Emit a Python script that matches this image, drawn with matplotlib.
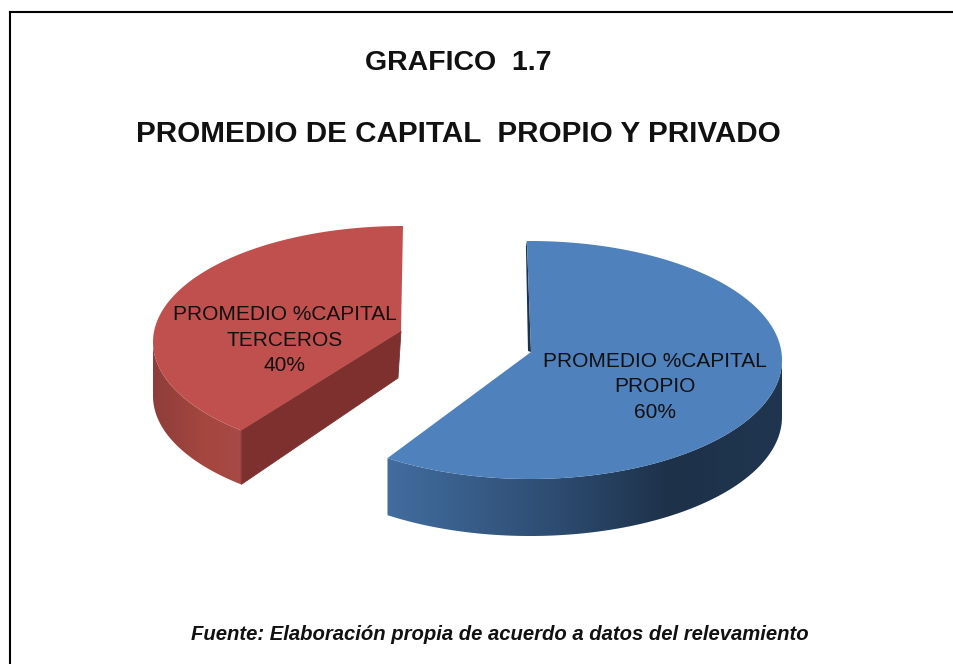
import numpy as np
import matplotlib
matplotlib.use("Agg")
import matplotlib.pyplot as plt
from matplotlib.colors import LinearSegmentedColormap
from matplotlib.patches import Polygon

plt.rcParams["font.family"] = ["Liberation Sans", "DejaVu Sans"]

# data
categories = ["PROMEDIO %CAPITAL\nPROPIO", "PROMEDIO %CAPITAL\nTERCEROS"]
values = [60, 40]
title_1 = "GRAFICO  1.7"
title_2 = "PROMEDIO DE CAPITAL  PROPIO Y PRIVADO"
source = "Fuente: Elaboración propia de acuerdo a datos del relevamiento"

W, H = 954, 664

# one style entry per slice, canvas is in pixels, y goes down
SLICES = [
    dict(center=(530, 360), apex=(531, 352), rx=252, ry=119, depth=57,
         start=90.7, direction=-1, squeeze=0.996, top="#4f81bd",
         side=[(0, "#426d9f"), (0.45, "#2c4a6e"), (0.72, "#1d3149"), (1, "#203650")],
         label_xy=(655, 387)),
    dict(center=(403, 342), apex=(401, 331), rx=250, ry=116, depth=54,
         start=90, direction=1, squeeze=0.97, top="#c0504d",
         side=[(0, "#8f3d3a"), (0.6, "#a5473f"), (1, "#a84a45")],
         label_xy=(285, 340)),
]


def rim(center, rx, ry, a0, a1, n=160):
    t = np.radians(np.linspace(a0, a1, n))
    return center[0] + rx * np.cos(t), center[1] - ry * np.sin(t)


def gradient_fill(ax, xs, ys, stops, zorder):
    # horizontal gradient clipped to the polygon
    cmap = LinearSegmentedColormap.from_list("side", stops)
    x0, x1 = xs.min(), xs.max()
    img = ax.imshow(
        np.linspace(0, 1, 256).reshape(1, -1),
        cmap=cmap,
        extent=(x0, x1, ys.max(), ys.min()),
        aspect="auto",
        zorder=zorder,
    )
    clip = Polygon(np.column_stack([xs, ys]), closed=True, transform=ax.transData,
                   facecolor="none", edgecolor="none")
    ax.add_patch(clip)
    img.set_clip_path(clip)


def draw_slice(ax, value, total, label, s, base_z):
    sweep = value / total * 360 * s["squeeze"]
    a0 = s["start"]
    a1 = a0 + s["direction"] * sweep
    c, ax_x, ax_y, d = s["center"], s["rx"], s["ry"], s["depth"]

    rx_pts, ry_pts = rim(c, ax_x, ax_y, a0, a1)
    tip = (rx_pts[-1], ry_pts[-1])

    # outer wall, only the front half of the rim shows
    if s["direction"] > 0:
        wx, wy = rim(c, ax_x, ax_y, 180, a1)
    else:
        wx, wy = rim(c, ax_x, ax_y, a1, 0)
    xs = np.concatenate([wx, wx[::-1]])
    ys = np.concatenate([wy, wy[::-1] + d])
    gradient_fill(ax, xs, ys, s["side"], base_z)

    # cut faces
    apex = s["apex"]
    if s["direction"] > 0:
        face = [apex, tip, (tip[0], tip[1] + d), (apex[0] - 3, apex[1] + d - 7)]
        ax.add_patch(Polygon(face, closed=True, facecolor="#7d302e", edgecolor="#7d302e",
                             lw=0.6, zorder=base_z + 1))
    else:
        top_pt = (rx_pts[0], ry_pts[0])
        face = [(top_pt[0] - 1, top_pt[1] + 6), (apex[0] - 3, apex[1] - 1), apex, top_pt]
        ax.add_patch(Polygon(face, closed=True, facecolor="#1d3149", edgecolor="none",
                             zorder=base_z + 1))

    # top surface
    top = np.column_stack([np.r_[apex[0], rx_pts], np.r_[apex[1], ry_pts]])
    ax.add_patch(Polygon(top, closed=True, facecolor=s["top"], edgecolor="none",
                         zorder=base_z + 2))

    ax.text(s["label_xy"][0], s["label_xy"][1], f"{label}\n{value}%",
            ha="center", va="center", fontsize=15, color="#101010",
            linespacing=1.42, zorder=base_z + 3)


def main():
    fig = plt.figure(figsize=(W / 100, H / 100), dpi=100)
    ax = fig.add_axes([0, 0, 1, 1])

    # frame, open on the right and at the bottom
    ax.plot([10, 10], [H, 12], color="black", lw=1.5, zorder=1)
    ax.plot([10, W], [12, 12], color="black", lw=1.5, zorder=1)

    total = sum(values)
    # red goes first so the blue slice sits over it
    draw_slice(ax, values[1], total, categories[1], SLICES[1], 2)
    draw_slice(ax, values[0], total, categories[0], SLICES[0], 8)

    ax.text(458, 63, title_1, ha="center", va="center", fontsize=20.5,
            fontweight="bold", color="#111111")
    ax.text(458, 134, title_2, ha="center", va="center", fontsize=21.3,
            fontweight="bold", color="#111111")
    ax.text(500, 635, source, ha="center", va="center", fontsize=14.6,
            fontweight="bold", fontstyle="italic", color="#111111")

    ax.set_xlim(0, W)
    ax.set_ylim(H, 0)
    ax.axis("off")

    fig.savefig("out.png", dpi=100, facecolor="white")
    plt.close(fig)


if __name__ == "__main__":
    main()
